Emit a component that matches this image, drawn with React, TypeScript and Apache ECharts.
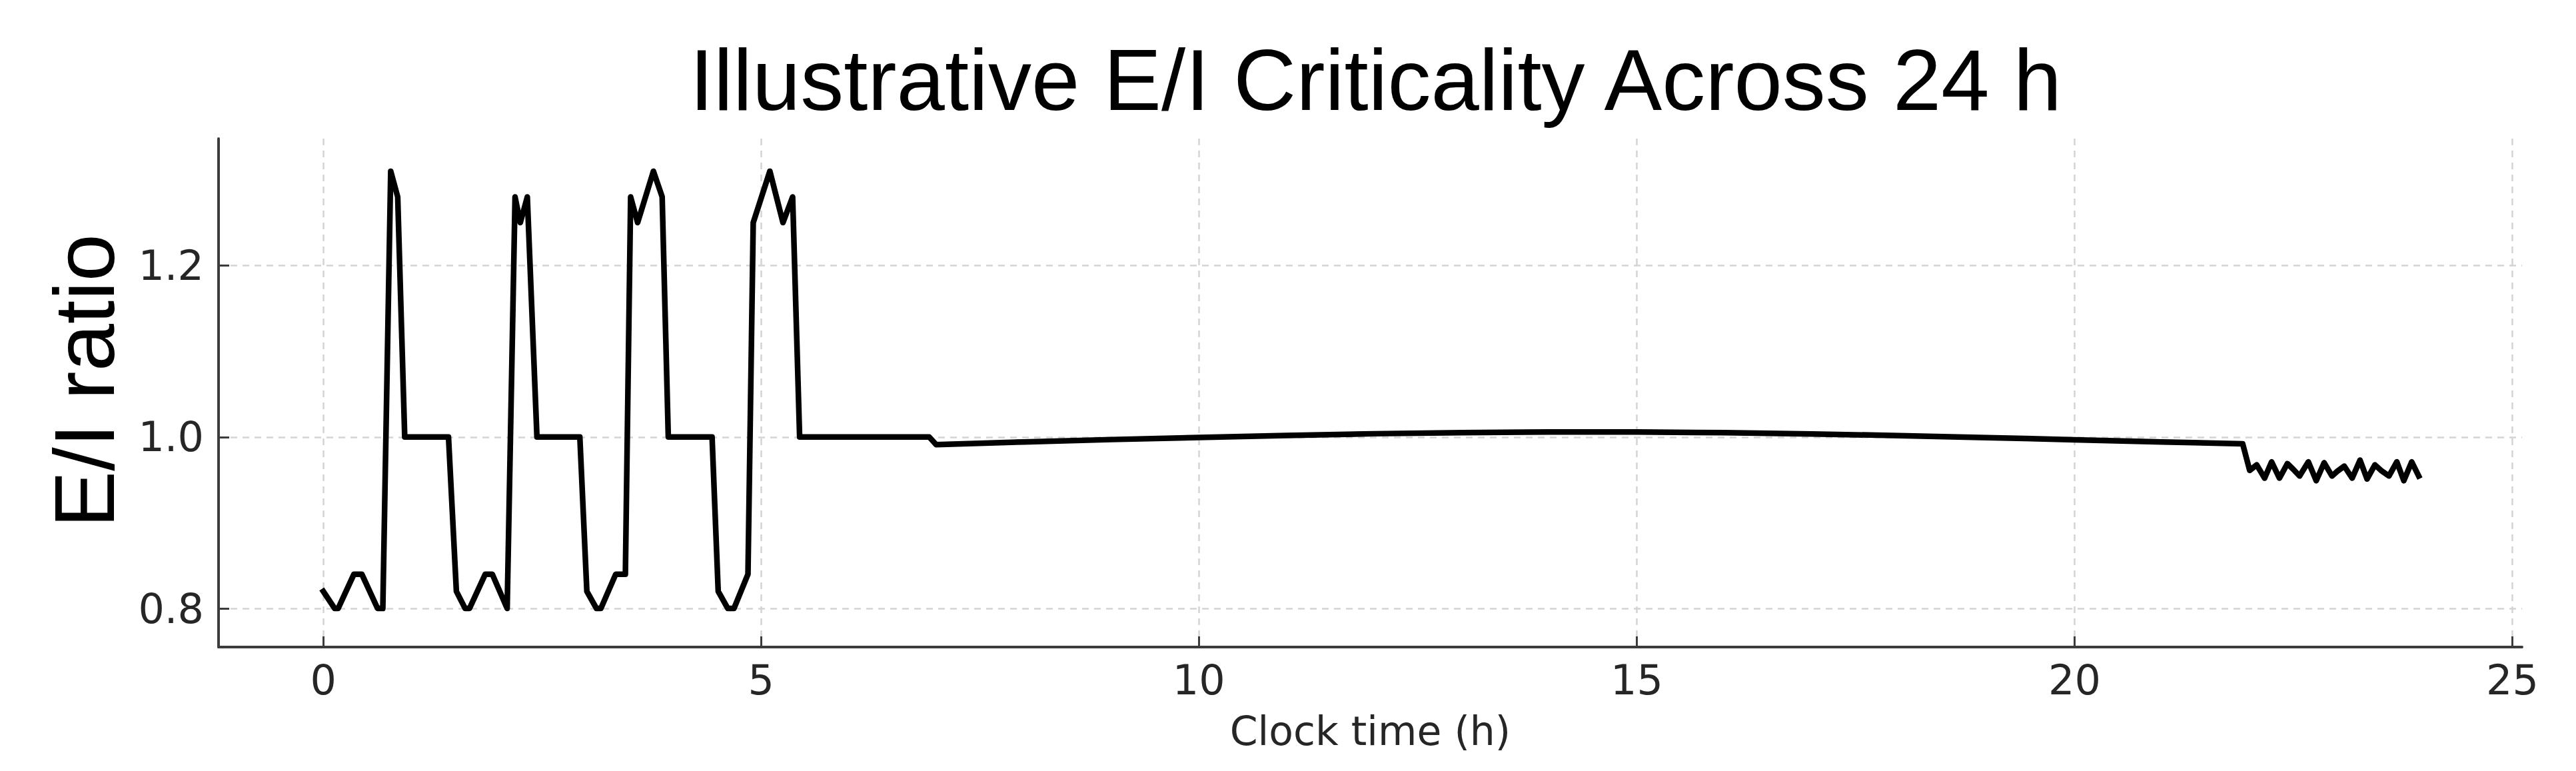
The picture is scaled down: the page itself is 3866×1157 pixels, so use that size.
import React, { useEffect, useRef } from "react";
import * as echarts from "echarts";

const TITLE = "Illustrative E/I Criticality Across 24 h";
const X_NAME = "Clock time (h)";
const Y_NAME = "E/I ratio";

const X_TICKS = [0, 5, 10, 15, 20, 25];
const Y_TICKS = [0.8, 1.0, 1.2];

// Clock time (h)
const TIMES = [
  0.0, 0.13, 0.17, 0.35, 0.44, 0.62, 0.68, 0.77, 0.85, 0.93,
  1.43, 1.52, 1.62, 1.67, 1.85, 1.93, 2.1, 2.19, 2.25, 2.33,
  2.44, 2.93, 3.01, 3.12, 3.17, 3.34, 3.45, 3.51, 3.59, 3.77,
  3.87, 3.94, 4.44, 4.51, 4.62, 4.69, 4.85, 4.91, 5.1, 5.25,
  5.36, 5.44, 6.92, 7.0,
  8, 9, 10, 11, 12, 13, 14, 15, 16, 17, 18, 19, 20, 21, 21.92,
  22.0, 22.08, 22.17, 22.25, 22.34, 22.43, 22.5, 22.57, 22.67, 22.76,
  22.85, 22.94, 23.0, 23.08, 23.17, 23.26, 23.34, 23.43, 23.5, 23.59,
  23.68, 23.76, 23.85, 23.93,
];

// E/I ratio
const RATIOS = [
  0.82, 0.8, 0.8, 0.84, 0.84, 0.8, 0.8, 1.31, 1.28, 1.0,
  1.0, 0.82, 0.8, 0.8, 0.84, 0.84, 0.8, 1.28, 1.25, 1.28,
  1.0, 1.0, 0.82, 0.8, 0.8, 0.84, 0.84, 1.28, 1.25, 1.31,
  1.28, 1.0, 1.0, 0.82, 0.8, 0.8, 0.84, 1.25, 1.31, 1.25,
  1.28, 1.0, 1.0, 0.991,
  0.9942, 0.997, 0.9995, 1.0018, 1.0038, 1.005, 1.0058, 1.0058, 1.005, 1.0036, 1.0016, 0.9993, 0.9968, 0.9942, 0.992,
  0.961, 0.9675, 0.952, 0.971, 0.952, 0.969, 0.962, 0.9545, 0.971, 0.949,
  0.97, 0.9545, 0.96, 0.966, 0.952, 0.973, 0.951, 0.9675, 0.961, 0.9545,
  0.971, 0.949, 0.971, 0.9545,
];

export default function App() {
  const ref = useRef<HTMLDivElement>(null);

  useEffect(() => {
    document.body.style.margin = "0";
    if (!ref.current) return;
    const chart = echarts.init(ref.current, null, { renderer: "svg" });
    const data = TIMES.map((t, i) => [t, RATIOS[i]]);
    const gridLine = {
      show: true,
      lineStyle: { color: "#d4d4d4", width: 2.5, type: [10, 8] as any },
    };
    chart.setOption({
      animation: false,
      backgroundColor: "#ffffff",
      title: {
        text: TITLE,
        left: 1030,
        top: 50,
        textStyle: {
          fontFamily: "Liberation Sans",
          fontSize: 130,
          fontWeight: "normal",
          color: "#000000",
        },
      },
      grid: { left: 328, right: 81, top: 208, bottom: 186 },
      xAxis: {
        type: "value",
        min: -1.196,
        max: 25.11,
        name: X_NAME,
        nameLocation: "middle",
        nameGap: 96,
        nameTextStyle: {
          fontFamily: "DejaVu Sans",
          fontSize: 60,
          color: "#262626",
        },
        axisLine: { show: true, onZero: false, lineStyle: { color: "#3c3c3c", width: 4 } },
        axisTick: {
          show: true,
          inside: true,
          length: 16,
          customValues: X_TICKS,
          lineStyle: { color: "#3c3c3c", width: 3 },
        },
        axisLabel: {
          customValues: X_TICKS,
          margin: 18,
          fontFamily: "DejaVu Sans",
          fontSize: 62,
          color: "#262626",
          formatter: (v: number) => String(v),
        },
        splitLine: gridLine,
      },
      yAxis: {
        type: "value",
        min: 0.755,
        max: 1.348,
        name: Y_NAME,
        nameLocation: "middle",
        nameGap: 138,
        nameTextStyle: {
          fontFamily: "Liberation Sans",
          fontSize: 128,
          color: "#000000",
          padding: [0, 0, 0, 36],
        },
        axisLine: { show: true, onZero: false, lineStyle: { color: "#3c3c3c", width: 4 } },
        axisTick: {
          show: true,
          inside: true,
          length: 16,
          customValues: Y_TICKS,
          lineStyle: { color: "#3c3c3c", width: 3 },
        },
        axisLabel: {
          customValues: Y_TICKS,
          margin: 22,
          fontFamily: "DejaVu Sans",
          fontSize: 62,
          color: "#262626",
          formatter: (v: number) => v.toFixed(1),
        },
        splitLine: gridLine,
      },
      series: [
        {
          type: "line",
          data,
          showSymbol: false,
          symbol: "none",
          lineStyle: { color: "#000000", width: 8.5, join: "round", cap: "square" },
          z: 5,
        },
      ],
    });
    return () => chart.dispose();
  }, []);

  return <div ref={ref} style={{ width: 3866, height: 1157 }} />;
}
